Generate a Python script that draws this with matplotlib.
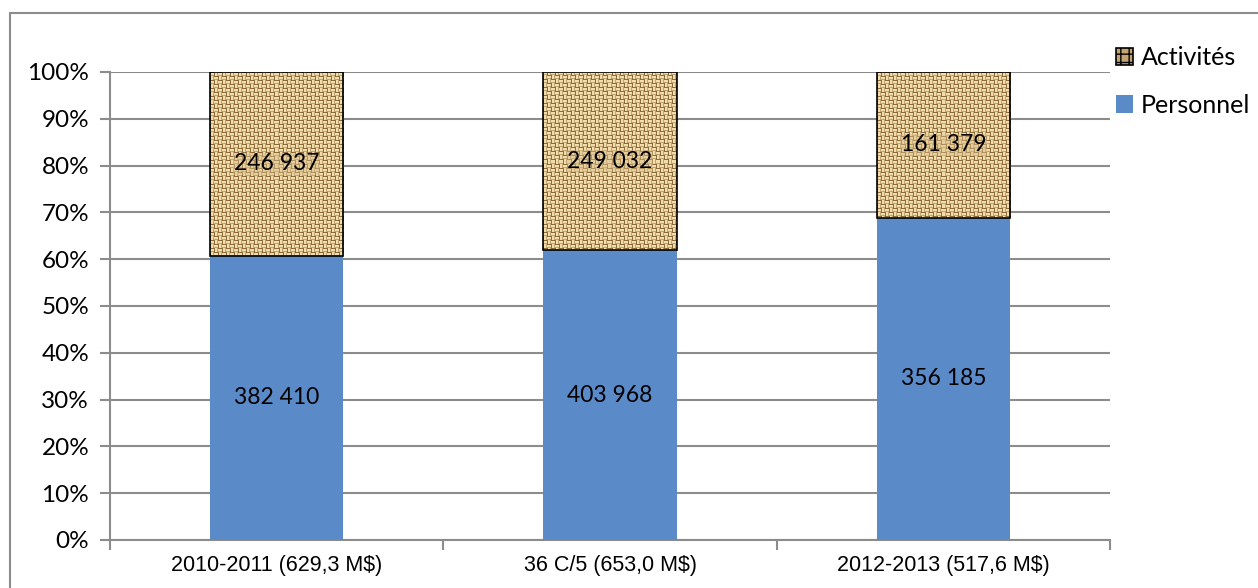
import matplotlib.pyplot as plt
import matplotlib.patches as mpatches
import numpy as np

categories = ["2010-2011 (629,3 M$)", "36 C/5 (653,0 M$)", "2012-2013 (517,6 M$)"]
personnel = [382410, 403968, 356185]
activites = [246937, 249032, 161379]
personnel_labels = ["382 410", "403 968", "356 185"]
activites_labels = ["246 937", "249 032", "161 379"]

total = np.array(personnel) + np.array(activites)
pers_pct = np.array(personnel) / total * 100
act_pct = np.array(activites) / total * 100

plt.rcParams['font.family'] = ['Lato', 'DejaVu Sans']
grey = "#8c8c8c"
tan = "#d8bd8a"


def weave(h, w):
    # simple basket-weave texture for the "Activités" fill
    i, j = np.indices((h, w))
    block = ((i // 4) + (j // 4)) % 2
    thread = np.where(block == 0, i % 4, j % 4)
    shade = np.where(thread == 0, 0.0, np.where(thread == 3, 0.5, 1.0))
    light = np.array([0.95, 0.87, 0.68])
    dark = np.array([0.55, 0.42, 0.22])
    return dark + (light - dark) * shade[..., None]


fig = plt.figure(figsize=(12.58, 5.88), dpi=100)
ax = fig.add_axes([110 / 1258, 1 - 540 / 588, 1000 / 1258, 468 / 588])

# outer chart frame
fig.patches.append(mpatches.Rectangle((10 / 1258, -0.05), 1.1, 1 - 13 / 588 + 0.05,
                                      transform=fig.transFigure, fill=False,
                                      edgecolor=grey, linewidth=1.5))

x = np.arange(len(categories))
w = 0.4

ax.bar(x, pers_pct, w, color="#5b8ac8", label="Personnel", zorder=3)
act_bars = ax.bar(x, act_pct, w, bottom=pers_pct, facecolor=tan,
                  edgecolor="black", linewidth=1.2, zorder=4)

for i, b in enumerate(act_bars):
    b.set_facecolor("none")
    hpx = int(round(act_pct[i] * 4.68))
    img = ax.imshow(weave(hpx, 133), extent=(x[i] - w / 2, x[i] + w / 2,
                                             pers_pct[i], 100),
                    aspect="auto", interpolation="nearest", zorder=3.5)
    img.set_clip_path(b)

for i in range(len(x)):
    ax.text(x[i], pers_pct[i] / 2, personnel_labels[i], ha="center", va="center",
            fontsize=16.5, color="black", zorder=5)
    ax.text(x[i], pers_pct[i] + act_pct[i] / 2, activites_labels[i], ha="center",
            va="center", fontsize=16.5, color="black", zorder=5,
            bbox=dict(facecolor=tan, edgecolor="none", alpha=0.45, pad=0.5))

ax.set_xlim(-0.5, 2.5)
ax.set_ylim(0, 100)
ax.set_yticks(np.arange(0, 101, 10))
ax.set_yticklabels([f"{v}%" for v in range(0, 101, 10)], fontsize=17.5)
ax.set_xticks(x)
ax.set_xticklabels(categories, family=["Liberation Sans"], fontsize=15.5)
ax.set_xticks([-0.5, 0.5, 1.5, 2.5], minor=True)
ax.tick_params(axis="x", which="major", length=0, pad=11)
ax.tick_params(axis="x", which="minor", length=7, color=grey, width=1.5)
ax.tick_params(axis="y", length=7, color=grey, width=1.5, pad=8)

ax.grid(axis="y", color=grey, linewidth=1.5, zorder=0)
ax.set_axisbelow(True)
for s in ["top", "right"]:
    ax.spines[s].set_visible(False)
for s in ["left", "bottom"]:
    ax.spines[s].set_color(grey)
    ax.spines[s].set_linewidth(1.5)

act_handle = mpatches.Patch(facecolor="#c4a46e", edgecolor="black", hatch="++",
                            linewidth=1.2, label="Activités")
pers_handle = mpatches.Patch(facecolor="#5b8ac8", label="Personnel")
ax.legend(handles=[act_handle, pers_handle], loc="upper left",
          bbox_to_anchor=(0.988, 1.092), frameon=False, fontsize=18,
          handlelength=0.7, handleheight=0.7, handletextpad=0.3,
          labelspacing=0.98, borderaxespad=0.3)

fig.savefig("out.png", dpi=100)
